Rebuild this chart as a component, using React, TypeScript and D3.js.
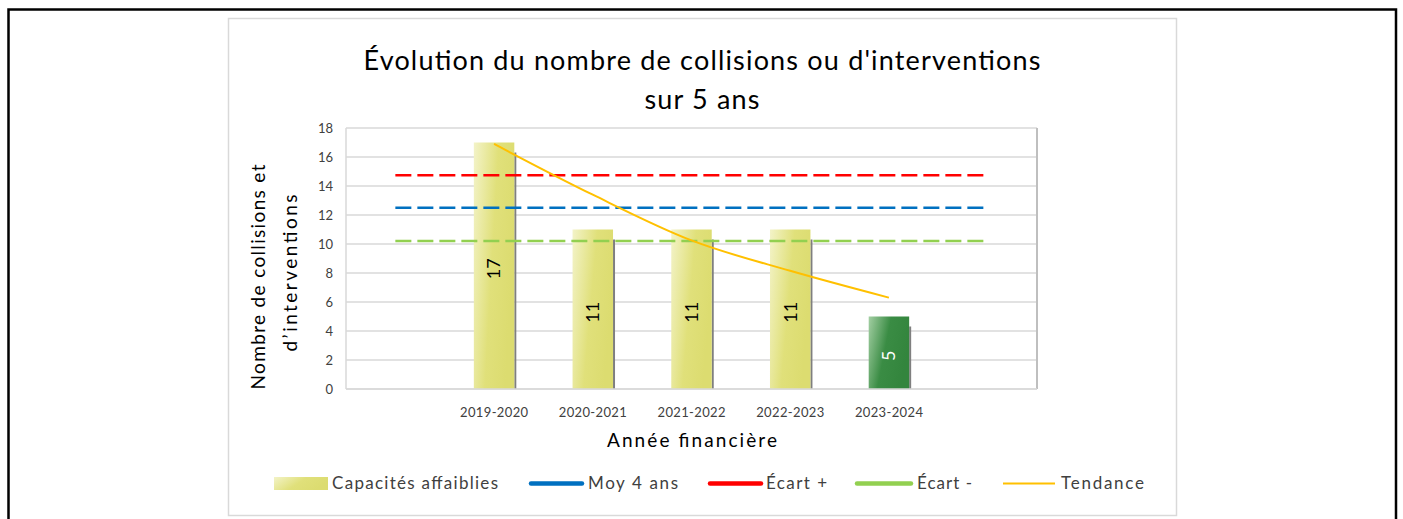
import { scaleBand, scaleLinear, line, curveMonotoneX, range } from "d3";

const years = ["2019-2020", "2020-2021", "2021-2022", "2022-2023", "2023-2024"];
const slots = ["", ...years, " "];
const collisions = [17, 11, 11, 11, 5];
const tendance = [16.9, 13.4, 10.25, 8.15, 6.3];
const moy4ans = [12.5, 12.5, 12.5, 12.5, 12.5, 12.5, 12.5];
const ecartPlus = [14.75, 14.75, 14.75, 14.75, 14.75, 14.75, 14.75];
const ecartMoins = [10.2, 10.2, 10.2, 10.2, 10.2, 10.2, 10.2];
const yTicks = range(0, 19, 2);

const legendItems = [
  { label: "Capacités affaiblies", kind: "bar", color: "#dfe07a" },
  { label: "Moy 4 ans", kind: "line", color: "#0070c0" },
  { label: "Écart +", kind: "line", color: "#ff0000" },
  { label: "Écart -", kind: "line", color: "#92d050" },
  { label: "Tendance", kind: "thin", color: "#ffc000" },
];

const width = 1403;
const height = 519;
const plot = { left: 346, right: 1037, top: 128, bottom: 389 };
const font = "Lato, 'Open Sans', sans-serif";

const x = scaleBand().domain(slots).range([plot.left, plot.right]);
const y = scaleLinear().domain([0, 18]).range([plot.bottom, plot.top]);
const barW = x.bandwidth() * 0.41;
const center = (s: string) => (x(s) as number) + x.bandwidth() / 2;

const flatLine = line<number>()
  .x((_, i) => center(slots[i]))
  .y((d) => y(d));

const trendLine = line<number>()
  .x((_, i) => center(years[i]))
  .y((d) => y(d))
  .curve(curveMonotoneX);

// legend layout: [symbol start, symbol end, text start, text width]
const legendLayout = [
  [274, 328, 332, 166],
  [529, 584, 588, 90],
  [708, 763, 766, 61],
  [855, 913, 917, 55],
  [1003, 1055, 1061, 83],
];

const App = () => {
  return (
    <svg
      width={width}
      height={height}
      style={{ position: "absolute", left: 0, top: 0, background: "#fff" }}
      fontFamily={font}
    >
      <defs>
        <linearGradient id="yellowBar" x1="0" y1="0" x2="1" y2="0.35">
          <stop offset="0" stopColor="#f3f3c8" />
          <stop offset="0.55" stopColor="#e0e07a" />
          <stop offset="1" stopColor="#dcdc70" />
        </linearGradient>
        <linearGradient id="greenBar" x1="0" y1="0" x2="1" y2="0.35">
          <stop offset="0" stopColor="#a3cfa3" />
          <stop offset="0.5" stopColor="#3a8c44" />
          <stop offset="1" stopColor="#33853d" />
        </linearGradient>
      </defs>

      {/* outer frame */}
      <path d="M8.5,530 V9.5 H1396 V530" fill="none" stroke="#000" strokeWidth={2.5} />
      {/* chart box */}
      <rect x={228.5} y={18.5} width={948} height={497} fill="#fff" stroke="#d9d9d9" strokeWidth={1.5} />

      <text x={702} y={70} textAnchor="middle" fontSize={27} fill="#000" textLength={677} lengthAdjust="spacing">
        Évolution du nombre  de collisions ou d'interventions
      </text>
      <text x={702} y={109} textAnchor="middle" fontSize={27} fill="#000" textLength={115} lengthAdjust="spacing">
        sur 5 ans
      </text>

      {/* grid */}
      {yTicks.map((t) => (
        <g key={t}>
          <line x1={plot.left} x2={plot.right} y1={y(t)} y2={y(t)} stroke="#d9d9d9" strokeWidth={1.5} />
          <text x={333} y={y(t)} dy="0.35em" textAnchor="end" fontSize={13} fill="#404040">
            {t}
          </text>
        </g>
      ))}
      <line x1={plot.left} x2={plot.left} y1={plot.top} y2={plot.bottom} stroke="#d9d9d9" strokeWidth={1.5} />
      <line x1={plot.right} x2={plot.right} y1={plot.top} y2={plot.bottom} stroke="#bfbfbf" strokeWidth={2} />

      {/* bars */}
      {collisions.map((v, i) => {
        const cx = center(years[i]);
        const last = i === collisions.length - 1;
        const top = y(v);
        return (
          <g key={years[i]}>
            <rect x={cx - barW / 2 + barW} y={top + 10} width={2} height={plot.bottom - top - 10} fill="#7f7f7f" />
            <rect
              x={cx - barW / 2}
              y={top}
              width={barW}
              height={plot.bottom - top}
              fill={last ? "url(#greenBar)" : "url(#yellowBar)"}
            />
            <text
              transform={`translate(${cx},${(top + plot.bottom) / 2 + 3}) rotate(-90)`}
              textAnchor="middle"
              dy="0.35em"
              fontSize={18}
              fill={last ? "#fff" : "#000"}
            >
              {v}
            </text>
          </g>
        );
      })}

      {/* dashed reference lines */}
      <path d={flatLine(ecartPlus) as string} fill="none" stroke="#ff0000" strokeWidth={2.5} strokeDasharray="16 6" />
      <path d={flatLine(moy4ans) as string} fill="none" stroke="#0070c0" strokeWidth={2.5} strokeDasharray="16 6" />
      <path d={flatLine(ecartMoins) as string} fill="none" stroke="#92d050" strokeWidth={2.5} strokeDasharray="16 6" />

      {/* trend */}
      <path d={trendLine(tendance) as string} fill="none" stroke="#ffc000" strokeWidth={2} />

      {/* x axis */}
      <line x1={plot.left} x2={plot.right} y1={plot.bottom} y2={plot.bottom} stroke="#d9d9d9" strokeWidth={1.5} />
      {years.map((yr) => (
        <text key={yr} x={center(yr)} y={412} dy="0.35em" textAnchor="middle" fontSize={13} fill="#404040" textLength={68} lengthAdjust="spacing">
          {yr}
        </text>
      ))}
      <text x={692} y={440} dy="0.35em" textAnchor="middle" fontSize={19} fill="#000" textLength={170} lengthAdjust="spacing">
        Année financière
      </text>

      {/* y title */}
      <g transform="translate(258,277) rotate(-90)">
        <text x={0} y={7} textAnchor="middle" fontSize={19} fill="#000" textLength={225} lengthAdjust="spacing">
          Nombre de collisions et
        </text>
        <text x={4} y={39} textAnchor="middle" fontSize={19} fill="#000" textLength={157} lengthAdjust="spacing">
          d’interventions
        </text>
      </g>

      {/* legend */}
      {legendItems.map((it, i) => {
        const [s0, s1, tx, tw] = legendLayout[i];
        return (
          <g key={it.label}>
            {it.kind === "bar" && <rect x={s0} y={477} width={s1 - s0} height={13} fill="url(#yellowBar)" />}
            {it.kind === "line" && (
              <line x1={s0 + 2} x2={s1 - 2} y1={483.5} y2={483.5} stroke={it.color} strokeWidth={4.5} strokeLinecap="round" />
            )}
            {it.kind === "thin" && <line x1={s0} x2={s1} y1={483.5} y2={483.5} stroke={it.color} strokeWidth={2} />}
            <text x={tx} y={483.5} dy="0.35em" fontSize={17} fill="#404040" textLength={tw} lengthAdjust="spacing">
              {it.label}
            </text>
          </g>
        );
      })}
    </svg>
  );
};

export default App;
